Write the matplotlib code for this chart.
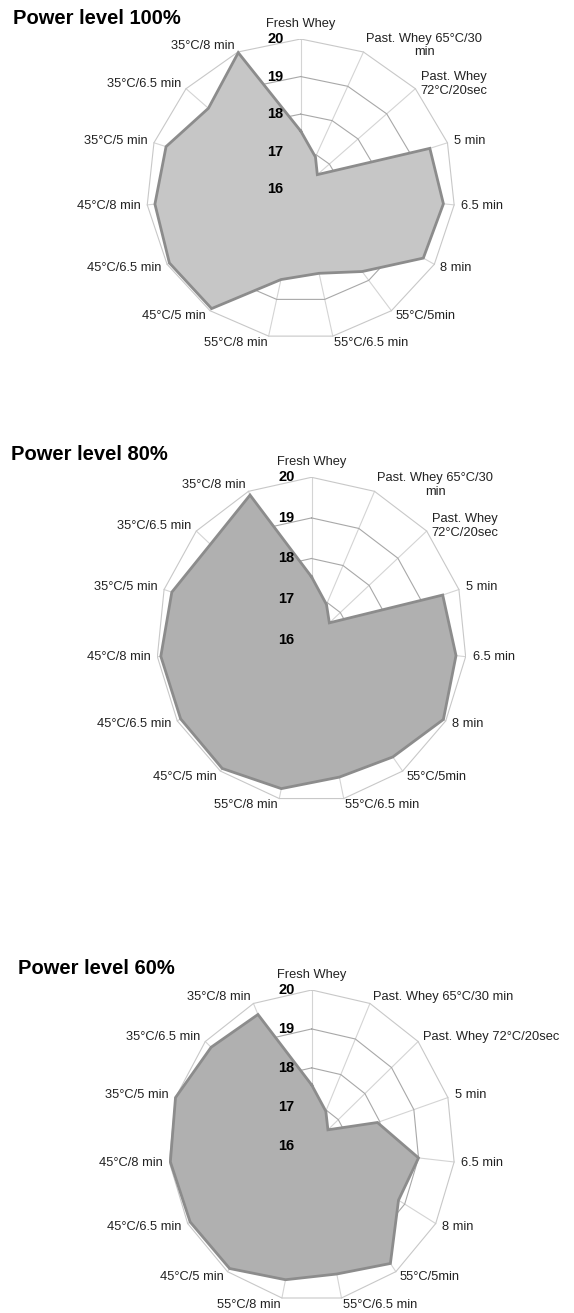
import numpy as np
import matplotlib
matplotlib.use("Agg")
import matplotlib.pyplot as plt

plt.rcParams['font.family'] = ['Liberation Sans', 'DejaVu Sans']

categories = ["Fresh Whey", "Past. Whey 65°C/30 min", "Past. Whey 72°C/20sec",
              "5 min", "6.5 min", "8 min", "55°C/5min", "55°C/6.5 min",
              "55°C/8 min", "45°C/5 min", "45°C/6.5 min", "45°C/8 min",
              "35°C/5 min", "35°C/6.5 min", "35°C/8 min"]
# wrapped versions of the two long names used in the upper charts
wrapped = {"Past. Whey 65°C/30 min": "Past. Whey 65°C/30\nmin",
           "Past. Whey 72°C/20sec": "Past. Whey\n72°C/20sec"}

power_100 = [17.55, 16.94, 16.58, 19.52, 19.72, 19.67, 18.71, 18.29,
             18.46, 19.93, 19.93, 19.80, 19.67, 19.22, 19.98]
power_80 = [17.55, 16.95, 16.62, 19.56, 19.75, 19.93, 19.57, 19.46,
            19.75, 19.92, 19.90, 19.91, 19.79, 19.51, 19.90]
power_60 = [17.56, 16.97, 16.61, 17.93, 19.00, 18.80, 19.74, 19.37,
            19.52, 19.90, 19.92, 19.97, 20.00, 19.78, 19.69]

titles = ["Power level 100%", "Power level 80%", "Power level 60%"]
r_min, r_max = 16, 20
r_ticks = [16, 17, 18, 19, 20]

W, H = 574, 1313
fig = plt.figure(figsize=(W / 100, H / 100), dpi=100)

# (cx, cy, rx, ry, title_x, title_y, wrap) in pixels
panels = [
    (power_100, "#c6c6c6", (300.7, 189.2, 154.3, 150.2, 13, 19, True)),
    (power_80, "#b0b0b0", (311.5, 639.7, 155.0, 162.4, 11, 454, True)),
    (power_60, "#b0b0b0", (311.7, 1145.7, 143.2, 155.7, 18, 968, False)),
]

n = len(categories)
theta = np.arange(n) * 2 * np.pi / n
px = 72 / 100  # points per pixel

for (vals, fill, geo), title in zip(panels, titles):
    cx, cy, rx, ry, tx, ty, wrap = geo
    ax = fig.add_axes([(cx - rx) / W, 1 - (cy + ry) / H, 2 * rx / W, 2 * ry / H])
    ax.set_xlim(-1, 1)
    ax.set_ylim(-1, 1)
    ax.axis("off")

    # spokes and rings
    for t in theta:
        ax.plot([0, np.sin(t)], [0, np.cos(t)], color="#d4d4d4", lw=0.8, zorder=1)
    for lvl in r_ticks[1:]:
        rr = (lvl - r_min) / (r_max - r_min)
        ring_t = np.append(theta, theta[0])
        col = "#c8c8c8" if lvl == r_max else "#a8a8a8"
        ax.plot(rr * np.sin(ring_t), rr * np.cos(ring_t), color=col, lw=0.8, zorder=1)

    # data polygon
    r = (np.array(vals) - r_min) / (r_max - r_min)
    xs = np.append(r * np.sin(theta), r[0] * np.sin(theta[0]))
    ys = np.append(r * np.cos(theta), r[0] * np.cos(theta[0]))
    ax.fill(xs, ys, color=fill, zorder=2, lw=0)
    ax.plot(xs, ys, color="#8c8c8c", lw=2.0, zorder=3, solid_joinstyle="miter")

    # radial tick labels
    for lvl in r_ticks:
        rr = (lvl - r_min) / (r_max - r_min)
        ax.annotate(str(lvl), (0, rr), xytext=(-17 * px, 0), textcoords="offset points",
                    ha="right", va="center", fontsize=10.5, fontweight="bold",
                    color="black", zorder=5)

    # category labels
    for t, lab in zip(theta, categories):
        s, c = np.sin(t), np.cos(t)
        text = wrapped.get(lab, lab) if wrap else lab
        if abs(s) < 0.05:
            ax.annotate(text, (s, c), xytext=(0, 15 * px), textcoords="offset points",
                        ha="center", va="center", fontsize=9.3, color="#222222")
        else:
            ax.annotate(text, (s, c), xytext=(7 * px * s, 7 * px * c),
                        textcoords="offset points", ha="left" if s > 0 else "right",
                        va="center", multialignment="center", fontsize=9.3,
                        color="#222222")

    fig.text(tx / W, 1 - ty / H, title, ha="left", va="center",
             fontsize=14.5, fontweight="bold", color="black")

fig.savefig("out.png", dpi=100, facecolor="white")
